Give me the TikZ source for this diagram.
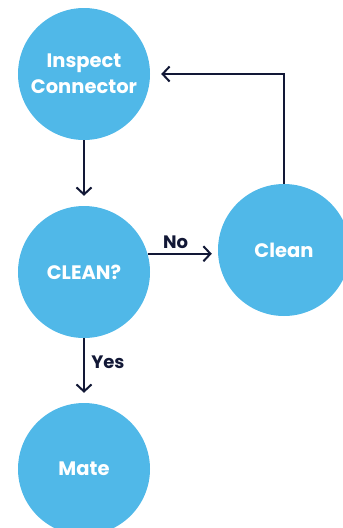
\documentclass[tikz,border=0pt]{standalone}
\usepackage{fontspec}
\setmainfont{Poppins}
\usepackage{xcolor}
\usepackage{tikz}
\usetikzlibrary{arrows.meta, positioning}

\definecolor{stepblue}{RGB}{80,184,232}
\definecolor{linenavy}{RGB}{18,24,54}

\begin{document}
\begin{tikzpicture}[x=1pt,y=1pt,
    stage/.style={circle,fill=stepblue,minimum size=132pt,inner sep=0pt,align=center,
        text=white,font=\fontsize{19.5}{26}\selectfont\bfseries},
    flow/.style={draw=linenavy,line width=2pt,-{Straight Barb[length=7pt,width=15pt,line width=2pt]}},
    tag/.style={text=linenavy,font=\fontsize{18}{20}\selectfont\bfseries}]
    \useasboundingbox (0,0) rectangle (343,-528);

    % the four steps
    \node[stage] (insp) at (84,-74) {Inspect\\Connector};
    \node[stage] (chk) at (84,-272) {CLEAN?};
    \node[stage] (cln) at (284,-250) {Clean};
    \node[stage] (mate) at (84,-469) {Mate};

    % connectors
    \draw[flow,shorten >=10pt] (insp.south) -- (chk.north);
    \draw[flow,shorten >=6pt] (chk.16) -- node[tag,above=1pt,pos=0.4] (no) {No} (chk.16 -| cln.west);
    \draw[flow,shorten >=10pt] (chk.south) -- node[tag,right=3pt,pos=0.38] (yes) {Yes} (mate.north);
    \draw[flow,shorten >=11pt] (cln.north) |- (insp.east);
\end{tikzpicture}
\end{document}
